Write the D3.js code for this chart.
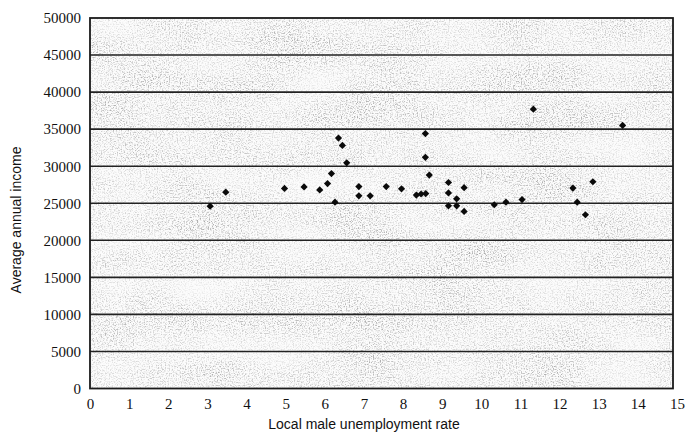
<!DOCTYPE html>
<html>
<head>
<meta charset="utf-8">
<script src="https://cdn.jsdelivr.net/npm/d3@7"></script>
<style>
  body { margin: 0; background: #fff; }
  svg { display: block; }
</style>
</head>
<body>
<div id="chart"></div>
<script>
// unemployment rate (%) vs average annual income
const unemployment = [
	3.07, 3.47, 4.97, 5.47, 5.87, 6.07, 6.17, 6.26, 6.35, 6.45,
	6.56, 6.87, 6.87, 7.16, 7.57, 7.96, 8.34, 8.46, 8.58, 8.57,
	8.57, 8.67, 9.16, 9.16, 9.16, 9.37, 9.37, 9.56, 9.56, 10.33,
	10.63, 11.04, 11.33, 12.34, 12.45, 12.66, 12.85, 13.61
]
const income = [
	24600, 26500, 27000, 27200, 26800, 27650, 29000, 25150, 33800, 32800,
	30450, 27250, 26000, 26000, 27250, 26950, 26100, 26250, 26300, 34400,
	31200, 28800, 27800, 26400, 24650, 25600, 24650, 27100, 23900, 24800,
	25150, 25500, 37700, 27050, 25150, 23450, 27900, 35500
]
const xTicks = d3.range(0, 16)
const yTicks = d3.range(0, 50001, 5000)

const width = 689
const height = 441
const margin = { top: 18, right: 11, bottom: 52.5, left: 90 }

const svg = d3.select("#chart")
	.append("svg")
	.attr("width", width)
	.attr("height", height)

// speckled "scanned paper" texture for the plot area
const defs = svg.append("defs")
const noise = defs.append("filter")
	.attr("id", "speckle")
	.attr("x", 0).attr("y", 0).attr("width", 1).attr("height", 1)
noise.append("feTurbulence")
	.attr("type", "fractalNoise")
	.attr("baseFrequency", "0.75")
	.attr("numOctaves", 3)
	.attr("seed", 11)
	.attr("result", "t")
noise.append("feColorMatrix")
	.attr("in", "t")
	.attr("type", "matrix")
	.attr("values", "0 0 0 0 0.4  0 0 0 0 0.4  0 0 0 0 0.4  3.4 0 0 0 -1.55")
	.attr("result", "dots")
// low-frequency patches so the grain is a bit uneven like the scan
noise.append("feTurbulence")
	.attr("type", "fractalNoise")
	.attr("baseFrequency", "0.012 0.03")
	.attr("numOctaves", 2)
	.attr("seed", 3)
	.attr("result", "p")
noise.append("feColorMatrix")
	.attr("in", "p")
	.attr("type", "matrix")
	.attr("values", "0 0 0 0 0  0 0 0 0 0  0 0 0 0 0  1.1 0 0 0 0.1")
	.attr("result", "patch")
noise.append("feComposite")
	.attr("in", "dots")
	.attr("in2", "patch")
	.attr("operator", "in")
	.attr("result", "grain")
noise.append("feComposite")
	.attr("in", "grain")
	.attr("in2", "SourceGraphic")
	.attr("operator", "over")

const x = d3.scaleLinear()
	.domain([0, 15])
	.range([margin.left, width - margin.right - 1])

const y = d3.scaleLinear()
	.domain([0, 50000])
	.range([height - margin.bottom, margin.top])

const plotW = x(15) - x(0)
const plotH = y(0) - y(50000)

svg.append("rect")
	.attr("x", x(0))
	.attr("y", y(50000))
	.attr("width", plotW - 4)
	.attr("height", plotH)
	.attr("fill", "#fcfcfc")
	.attr("filter", "url(#speckle)")

// horizontal gridlines
svg.append("g")
	.attr("class", "grid")
	.selectAll("line")
	.data(yTicks.filter(d => d > 0 && d < 50000))
	.enter()
	.append("line")
	.attr("x1", x(0))
	.attr("x2", x(15) - 4)
	.attr("y1", d => y(d))
	.attr("y2", d => y(d))
	.attr("stroke", "#222")
	.attr("stroke-width", 1.6)

// plot frame
svg.append("rect")
	.attr("x", x(0))
	.attr("y", y(50000))
	.attr("width", plotW - 4)
	.attr("height", plotH)
	.attr("fill", "none")
	.attr("stroke", "#1a1a1a")
	.attr("stroke-width", 1.8)

// axes (labels only, the scan has no tick marks)
const serif = "Liberation Serif"

const yAxis = svg.append("g")
	.attr("transform", `translate(${x(0)},0)`)
	.call(d3.axisLeft(y).tickValues(yTicks).tickFormat(d3.format("d")).tickSize(0).tickPadding(9))
yAxis.select(".domain").remove()
yAxis.selectAll("text")
	.style("font-family", serif)
	.style("font-size", "15px")
	.attr("fill", "#111")

const xAxis = svg.append("g")
	.attr("transform", `translate(0,${y(0)})`)
	.call(d3.axisBottom(x).tickValues(xTicks).tickFormat(d3.format("d")).tickSize(0).tickPadding(10))
xAxis.select(".domain").remove()
xAxis.selectAll("text")
	.style("font-family", serif)
	.style("font-size", "15px")
	.attr("fill", "#111")

// axis titles
svg.append("text")
	.attr("transform", `translate(21, 220) rotate(-90)`)
	.attr("text-anchor", "middle")
	.style("font-family", "Liberation Sans")
	.style("font-size", "14px")
	.attr("fill", "#111")
	.text("Average annual income")

svg.append("text")
	.attr("x", 364)
	.attr("y", 429)
	.attr("text-anchor", "middle")
	.style("font-family", "Liberation Sans")
	.style("font-size", "14px")
	.attr("fill", "#111")
	.text("Local male unemployment rate")

// diamond markers
const points = unemployment.map((u, i) => ({ u, v: income[i] }))
const diamond = d3.symbol().type(d3.symbolSquare).size(26)

svg.append("g")
	.attr("class", "points")
	.selectAll("path")
	.data(points)
	.enter()
	.append("path")
	.attr("d", diamond)
	.attr("transform", d => `translate(${x(d.u)},${y(d.v)}) rotate(45)`)
	.attr("fill", "#0a0a0a")
</script>
</body>
</html>
